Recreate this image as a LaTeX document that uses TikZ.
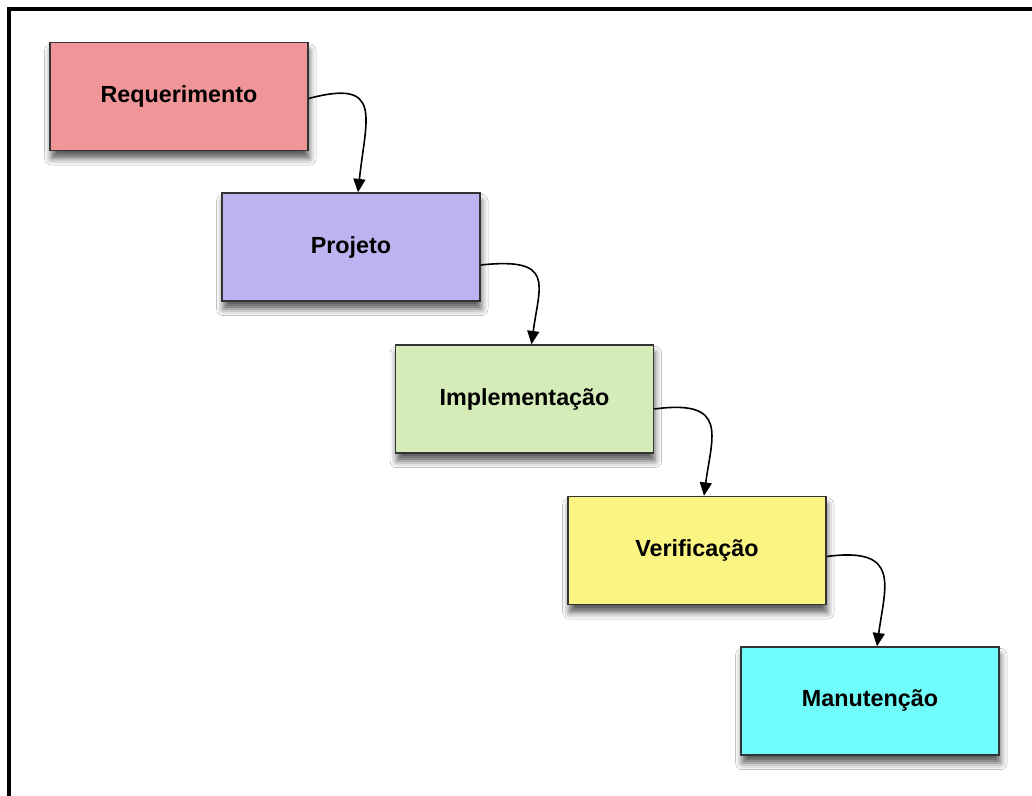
\documentclass[tikz,border=0pt]{standalone}
\usepackage{fontspec}
\setmainfont{Liberation Sans}
\usetikzlibrary{arrows.meta,shadows.blur,calc}

\tikzset{every picture/.style={line width=0.75pt}}
\tikzset{
  phasebox/.style={draw={rgb, 255:red, 51; green, 51; blue, 51 }, line width=1.1pt, minimum width=193.5pt, minimum height=81pt, inner sep=0pt,
    font=\fontsize{17.5}{20}\selectfont\bfseries,
    blur shadow={shadow xshift=1pt, shadow yshift=-6pt, shadow blur radius=5pt, shadow opacity=65}},
  flow/.style={line width=1.2pt, -{Triangle[length=10pt,width=9pt]}}
}

\begin{document}
\begin{tikzpicture}[x=0.75pt,y=0.75pt,yscale=-1,xscale=1]
	\useasboundingbox (0,0) rectangle (1032,796);
	\fill[white] (0,0) rectangle (1032,796);

	%Shape: Frame (left and top)
	\draw [line width=2.6pt] (9,800) -- (9,9) -- (1034,9) ;

	%Phases
	\node [phasebox, fill={rgb, 255:red, 241; green, 150; blue, 152 }] (req) at (179,96.5) {Requerimento};
	\node [phasebox, fill={rgb, 255:red, 190; green, 178; blue, 240 }] (proj) at (351,247) {Projeto};
	\node [phasebox, fill={rgb, 255:red, 214; green, 236; blue, 184 }] (impl) at (524.5,399) {Implementação};
	\node [phasebox, fill={rgb, 255:red, 250; green, 244; blue, 130 }] (verif) at (697,550.5) {Verificação};
	\node [phasebox, fill={rgb, 255:red, 112; green, 252; blue, 250 }] (manut) at (870,701) {Manutenção};

	%Curved arrows between phases
	\draw [flow] ($(req.east)+(0,2)$) .. controls +(75,-20) and +(8,-75) .. ($(proj.north)+(7,0)$) ;
	\draw [flow] ($(proj.east)+(0,18)$) .. controls +(75,-8) and +(8,-60) .. ($(impl.north)+(7,0)$) ;
	\draw [flow] ($(impl.east)+(0,10)$) .. controls +(75,-10) and +(8,-60) .. ($(verif.north)+(7,0)$) ;
	\draw [flow] ($(verif.east)+(0,6)$) .. controls +(75,-10) and +(8,-60) .. ($(manut.north)+(7,0)$) ;

\end{tikzpicture}
\end{document}
